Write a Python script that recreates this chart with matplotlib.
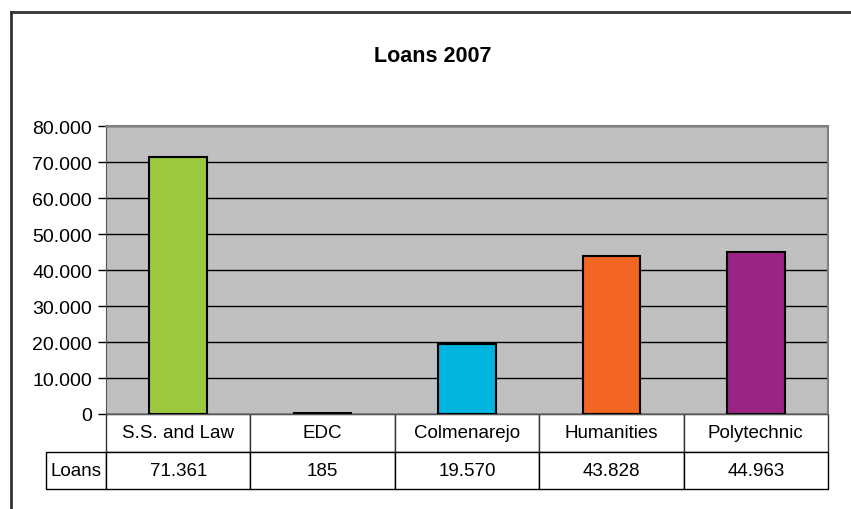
import matplotlib
matplotlib.use("Agg")
import matplotlib.pyplot as plt
from matplotlib.lines import Line2D
from matplotlib.table import Table
from matplotlib.ticker import FuncFormatter

plt.rcParams["font.family"] = ["Liberation Sans", "DejaVu Sans"]

# data
categories = ["S.S. and Law", "EDC", "Colmenarejo", "Humanities", "Polytechnic"]
loans = [71361, 185, 19570, 43828, 44963]
colors = ["#9BC83C", "#9BC83C", "#00B4E0", "#F26522", "#9B2383"]
series_name = "Loans"
title = "Loans 2007"


def dot_thousands(v, pos=None):
    return f"{int(round(v)):,}".replace(",", ".")


W, H = 851, 510
fig = plt.figure(figsize=(W / 100, H / 100), dpi=100)

# chart frame (top and left edges visible in the reference)
fig.add_artist(Line2D([11 / W, 11 / W], [0, 1 - 13 / H], color="#333333", lw=2))
fig.add_artist(Line2D([11 / W, 1], [1 - 13 / H, 1 - 13 / H], color="#333333", lw=2))

ax = fig.add_axes([106 / W, 95 / H, 722 / W, 288 / H])
ax.set_facecolor("#C0C0C0")

x = range(len(categories))
ax.bar(x, loans, width=0.4, color=colors, edgecolor="black", linewidth=1.5, zorder=3)

ax.set_xlim(-0.5, len(categories) - 0.5)
ax.set_ylim(0, 80000)
ax.set_yticks(range(0, 80001, 10000))
ax.yaxis.set_major_formatter(FuncFormatter(dot_thousands))
ax.grid(axis="y", color="black", linewidth=1, zorder=1)
ax.tick_params(axis="y", direction="out", length=6, width=1, labelsize=14, pad=4)
ax.set_xticks([])

for side in ["top", "right"]:
    ax.spines[side].set_color("#808080")
    ax.spines[side].set_linewidth(1.5)
ax.spines["left"].set_color("#555555")
ax.spines["bottom"].set_color("#555555")

fig.text(433 / W, 1 - 57 / H, title, ha="center", va="center",
         fontsize=15.5, fontweight="bold")

# data table under the axis
label_w = 60 / 722
col_w = 1 / len(categories)
row_h = 37 / 288
tab = Table(ax, bbox=[0, -75 / 288, 1, 75 / 288])
for j, name in enumerate(categories):
    c = tab.add_cell(0, j, col_w, row_h, text=name, loc="center")
    c.set_edgecolor("#333333")
    c = tab.add_cell(1, j, col_w, row_h, text=dot_thousands(loans[j]), loc="center")
    c.set_edgecolor("black")
c = tab.add_cell(1, -1, label_w, row_h, text=series_name, loc="center")
c.set_edgecolor("black")
tab.auto_set_font_size(False)
tab.set_fontsize(13.5)
for cell in tab.get_celld().values():
    cell.set_linewidth(1)
    cell.PAD = 0.02
ax.add_table(tab)

fig.savefig("out.png", dpi=100)
